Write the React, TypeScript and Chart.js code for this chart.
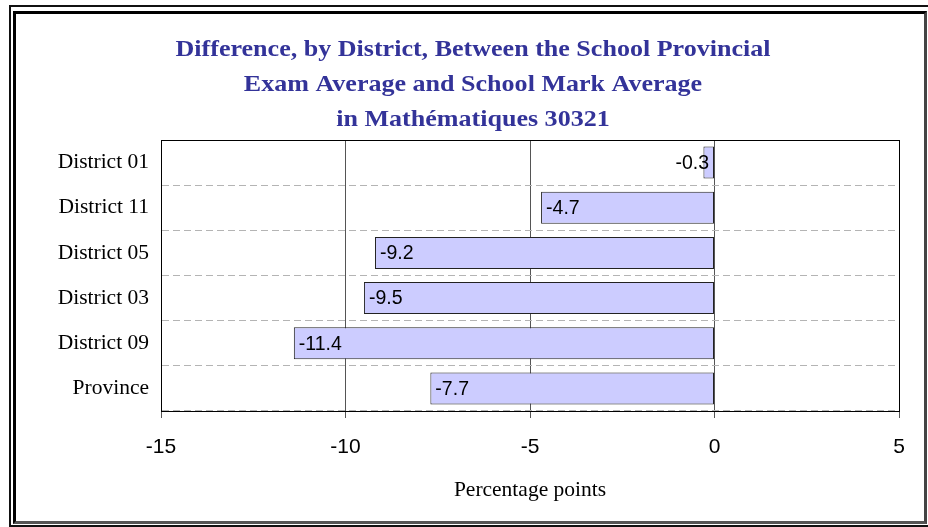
import React, { useEffect, useRef } from "react";
import { Chart, registerables } from "chart.js";

Chart.register(...registerables);

const categories = ["District 01", "District 11", "District 05", "District 03", "District 09", "Province"];
const values = [-0.3, -4.7, -9.2, -9.5, -11.4, -7.7];
const xMin = -15;
const xMax = 5;
const xStep = 5;
const titleLines = [
  "Difference, by District, Between the School Provincial",
  "Exam Average and School Mark Average",
  "in Mathématiques 30321",
];
const axisTitle = "Percentage points";

const SERIF = "'Liberation Serif', 'Times New Roman', serif";
const SANS = "'Liberation Sans', Arial, sans-serif";

const titlePlugin = {
  id: "customTitle",
  afterDraw(chart: any) {
    const ctx = chart.ctx;
    const ys = [50, 85, 120];
    titleLines.forEach((t, i) => {
      ctx.save();
      ctx.font = `bold 24px ${SERIF}`;
      ctx.fillStyle = "#333399";
      ctx.textAlign = "center";
      ctx.textBaseline = "middle";
      ctx.translate(473, ys[i]);
      ctx.scale(1.085, 1);
      ctx.fillText(t, 0, 0);
      ctx.restore();
    });
  },
};

const frameAndLabels = {
  id: "frameAndLabels",
  afterDatasetsDraw(chart: any) {
    const ctx = chart.ctx;
    const meta = chart.getDatasetMeta(0);
    ctx.save();
    ctx.font = `19.5px ${SANS}`;
    ctx.fillStyle = "#000";
    ctx.textBaseline = "middle";
    meta.data.forEach((el: any, i: number) => {
      const txt = String(values[i]);
      const w = ctx.measureText(txt).width;
      const left = Math.min(el.x, el.base);
      const right = Math.max(el.x, el.base);
      if (right - left > w + 10) {
        ctx.textAlign = "left";
        ctx.fillText(txt, left + 5, el.y + 1);
      } else {
        ctx.textAlign = "right";
        ctx.fillText(txt, right - 5, el.y + 1);
      }
    });
    const a = chart.chartArea;
    ctx.strokeStyle = "#000";
    ctx.lineWidth = 1;
    ctx.strokeRect(Math.round(a.left) + 0.5, Math.round(a.top) + 0.5, Math.round(a.right - a.left), Math.round(a.bottom - a.top));
    ctx.restore();
  },
};

function ChartView() {
  const ref = useRef<HTMLCanvasElement | null>(null);
  useEffect(() => {
    if (!ref.current) return;
    const chart = new Chart(ref.current, {
      type: "bar",
      data: {
        labels: categories,
        datasets: [
          {
            data: values,
            backgroundColor: "#CCCCFF",
            borderColor: "#222222",
            borderWidth: 1,
            borderSkipped: false,
            barPercentage: 1,
            categoryPercentage: 0.71,
          },
        ],
      },
      options: {
        indexAxis: "y",
        responsive: false,
        animation: false,
        layout: { padding: { top: 140, left: 0, right: 29, bottom: 20 } },
        plugins: {
          legend: { display: false },
          tooltip: { enabled: false },
          title: { display: false },
        },
        scales: {
          x: {
            type: "linear",
            position: "bottom",
            min: xMin,
            max: xMax,
            ticks: { stepSize: xStep, color: "#000", font: { family: SANS, size: 21 }, padding: 17 },
            grid: { color: "#555", lineWidth: 1, tickLength: 7, drawTicks: true },
            border: { display: true, color: "#000" },
            title: {
              display: true,
              text: axisTitle,
              color: "#000",
              font: { family: SERIF, size: 21.5 },
              padding: { top: 0, bottom: 4 },
            },
            afterFit: (s: any) => {
              s.height = 96;
            },
          },
          y: {
            type: "category",
            offset: true,
            grid: { offset: true, color: "#b4b4b4", lineWidth: 1, drawTicks: false },
            border: { display: true, color: "#000", dash: [7, 4] },
            ticks: { color: "#000", font: { family: SERIF, size: 21.5 }, padding: 12 },
            afterFit: (s: any) => {
              s.width = 161;
            },
          },
        },
      },
      plugins: [titlePlugin, frameAndLabels],
    } as any);
    return () => chart.destroy();
  }, []);
  return (
    <canvas
      ref={ref}
      width={928}
      height={527}
      style={{ position: "absolute", left: 0, top: 0, width: 928, height: 527 }}
    />
  );
}

export default function App() {
  const line = (s: React.CSSProperties) => <div style={{ position: "absolute", ...s }} />;
  return (
    <div style={{ position: "fixed", left: 0, top: 0, width: 928, height: 527, background: "#fff", overflow: "hidden" }}>
      <ChartView />
      {line({ left: 9, top: 5, width: 919, height: 2, background: "#111" })}
      {line({ left: 9, top: 5, width: 2, height: 522, background: "#111" })}
      {line({ left: 9, top: 525, width: 919, height: 2, background: "#111" })}
      <div
        style={{
          position: "absolute",
          left: 13,
          top: 11,
          width: 908,
          height: 507,
          borderTop: "3px solid #000",
          borderLeft: "3px solid #000",
          borderRight: "3px solid #444",
          borderBottom: "3px solid #555",
        }}
      />
    </div>
  );
}
